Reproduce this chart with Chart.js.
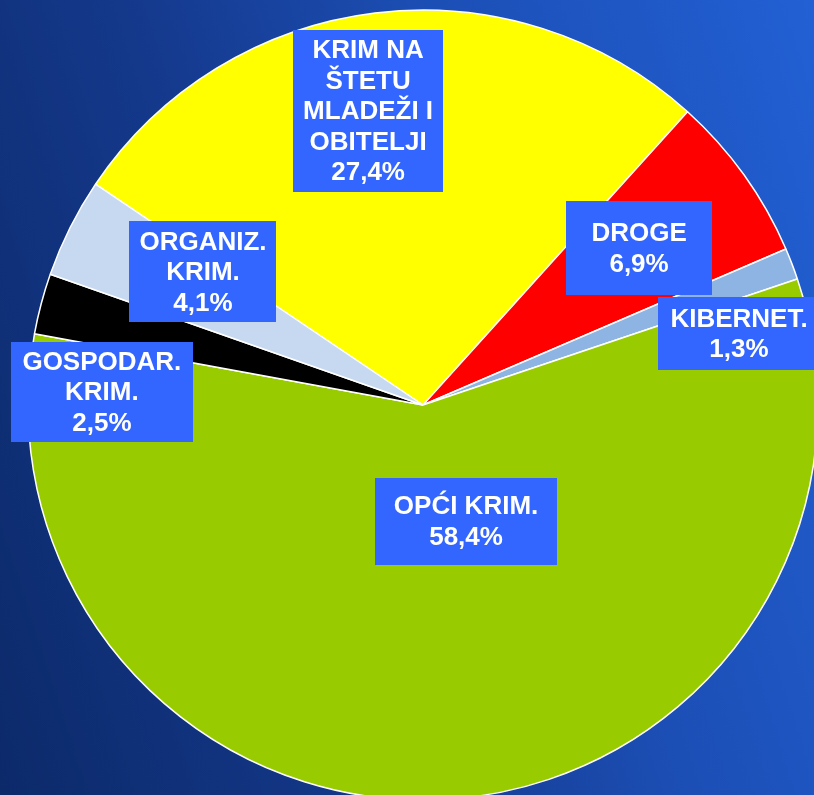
<!DOCTYPE html>
<html>
<head>
<meta charset="utf-8">
<script src="https://cdn.jsdelivr.net/npm/chart.js@4.4.1/dist/chart.umd.min.js"></script>
<style>
  html, body { margin: 0; padding: 0; }
  #stage {
    position: relative;
    width: 814px;
    height: 795px;
    overflow: hidden;
    background: linear-gradient(72deg, #0c2a6a 0%, #14388a 35%, #1c4fb6 65%, #2260d4 100%);
  }
  #pie { position: absolute; left: 0; top: 0; }
</style>
</head>
<body>
<div id="stage">
  <canvas id="pie" width="846" height="810"></canvas>
</div>
<script>
// Struktura kriminaliteta po vrstama (postotak)
var CATEGORIES = [
  ["KRIM NA", "ŠTETU", "MLADEŽI I", "OBITELJI"],
  ["DROGE"],
  ["KIBERNET."],
  ["OPĆI KRIM."],
  ["GOSPODAR.", "KRIM."],
  ["ORGANIZ.", "KRIM."]
];
var VALUES = [27.4, 6.9, 1.3, 58.4, 2.5, 4.1];

var COLORS = ["#ffff00", "#ff0000", "#8db4e2", "#99cc00", "#000000", "#c6d9f1"];

// smještaj oznaka: pomak od središta kruga u dijelovima polumjera, veličina okvira u px
var LABEL_POS = [
  { fx: -0.139, fy: -0.744, w: 150, h: 162 },
  { fx: 0.547, fy: -0.397, w: 146, h: 94 },
  { fx: 0.800, fy: -0.180, w: 162, h: 73 },
  { fx: 0.109, fy: 0.294, w: 182, h: 87 },
  { fx: -0.813, fy: -0.033, w: 182, h: 100 },
  { fx: -0.557, fy: -0.337, w: 147, h: 101 }
];

function fmtPct(v) {
  return v.toFixed(1).replace(".", ",") + "%";
}

var boxLabels = {
  id: "boxLabels",
  afterDatasetsDraw: function (chart) {
    var ctx = chart.ctx;
    var arcs = chart.getDatasetMeta(0).data;
    ctx.save();
    ctx.font = "bold 26px 'Liberation Sans', Arial, sans-serif";
    ctx.textAlign = "center";
    ctx.textBaseline = "middle";
    arcs.forEach(function (arc, i) {
      var p = LABEL_POS[i];
      var R = arc.outerRadius;
      var cx = arc.x + p.fx * R;
      var cy = arc.y + p.fy * R;
      ctx.fillStyle = "#3366ff";
      ctx.fillRect(Math.round(cx - p.w / 2), Math.round(cy - p.h / 2), p.w, p.h);
      var lines = CATEGORIES[i].concat([fmtPct(VALUES[i])]);
      var lh = 30.5;
      var y0 = cy - (lines.length - 1) * lh / 2 + 1;
      ctx.fillStyle = "#ffffff";
      lines.forEach(function (t, k) {
        ctx.fillText(t, cx, y0 + k * lh);
      });
    });
    ctx.restore();
  }
};

new Chart(document.getElementById("pie"), {
  type: "pie",
  data: {
    labels: CATEGORIES.map(function (c) { return c.join(" "); }),
    datasets: [{
      data: VALUES,
      backgroundColor: COLORS,
      borderColor: "#ffffff",
      borderWidth: 1.5
    }]
  },
  options: {
    responsive: false,
    animation: false,
    radius: 395,
    rotation: -56,
    layout: { padding: 0 },
    plugins: {
      legend: { display: false },
      tooltip: { enabled: false }
    }
  },
  plugins: [boxLabels]
});
</script>
</body>
</html>
